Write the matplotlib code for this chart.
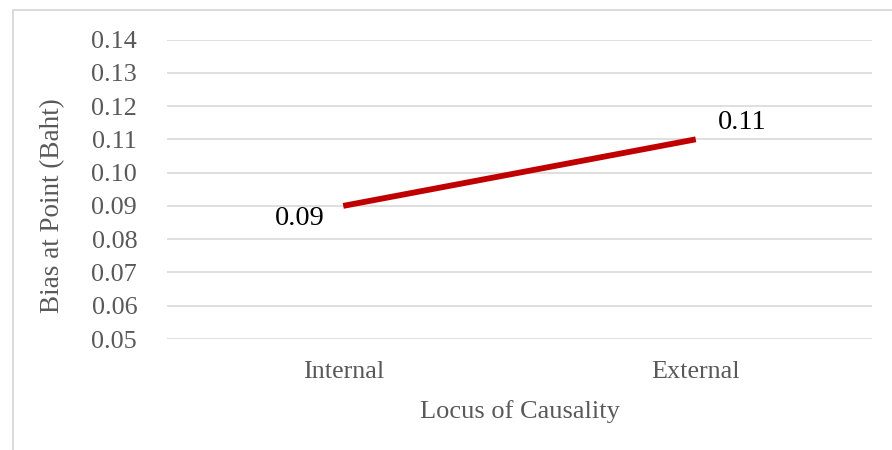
import matplotlib.pyplot as plt
from matplotlib.patches import Rectangle

categories = ['Internal', 'External']
bias = [0.09, 0.11]
value_labels = ['0.09', '0.11']
y_ticks = [0.05, 0.06, 0.07, 0.08, 0.09, 0.10, 0.11, 0.12, 0.13, 0.14]

plt.rcParams['font.family'] = ['Liberation Serif', 'DejaVu Serif']

W, H = 892, 450
fig = plt.figure(figsize=(W / 100, H / 100), dpi=100)
ax = fig.add_axes([167 / W, 1 - 339 / H, 705 / W, 299.5 / H])

# chart border (only left and top visible)
fig.patches.append(Rectangle((13 / W, -0.1), 1.2, (H - 10) / H + 0.1,
                             transform=fig.transFigure, fill=False,
                             edgecolor='#D9D9D9', linewidth=1.3))

x = range(len(categories))
ax.plot(x, bias, color='#C00000', linewidth=4.2, solid_capstyle='butt')

ax.set_xlim(-0.5, len(categories) - 0.5)
ax.set_ylim(y_ticks[0], y_ticks[-1])
ax.set_yticks(y_ticks)
ax.set_yticklabels([f'{t:.2f}' for t in y_ticks])
ax.set_xticks(list(x))
ax.set_xticklabels(categories)
ax.grid(axis='y', color='#D9D9D9', linewidth=1.2)
ax.set_axisbelow(True)
for s in ax.spines.values():
    s.set_visible(False)
ax.tick_params(axis='both', length=0, labelsize=18.8, labelcolor='#595959')
ax.tick_params(axis='y', pad=21.5)
ax.tick_params(axis='x', pad=16)

ax.set_ylabel('Bias at Point (Baht)', fontsize=19.5, color='#595959')
ax.yaxis.set_label_coords(-0.1447, 0.445)
ax.set_xlabel('Locus of Causality', fontsize=19, color='#595959', labelpad=12)

offsets = [(-44, -13), (46, 17)]
for xi, v, txt, off in zip(x, bias, value_labels, offsets):
    ax.annotate(txt, (xi, v), xytext=off, textcoords='offset pixels',
                ha='center', va='center', fontsize=20.5, color='black')

fig.savefig('out.png', dpi=100)
